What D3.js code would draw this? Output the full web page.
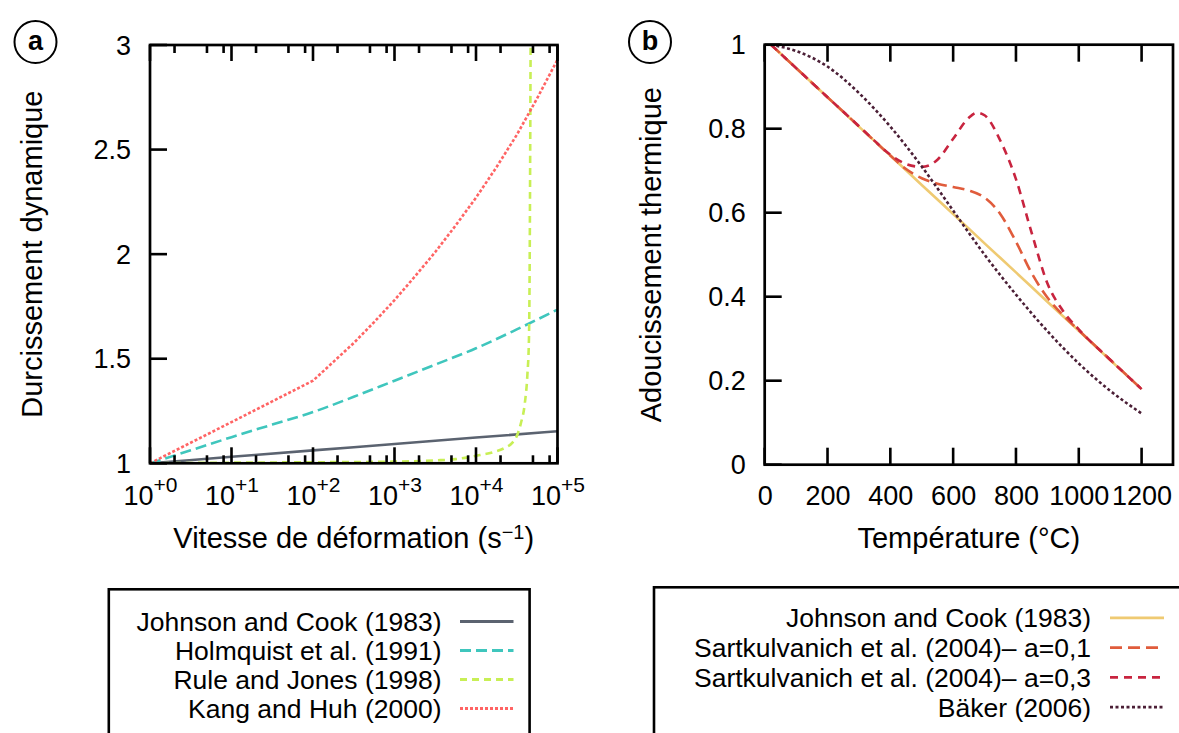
<!DOCTYPE html>
<html>
<head>
<meta charset="utf-8">
<script src="https://cdn.jsdelivr.net/npm/d3@7"></script>
<style>
  html, body { margin: 0; padding: 0; background: #fff; }
  svg { display: block; }
</style>
</head>
<body>
<svg id="chart" width="1179" height="733"></svg>
<script>
// ---- panel a : dynamic hardening vs strain rate (s^-1)
const jcRate = [1, 10, 100, 1e3, 1e4, 1e5];
const jcHardening = [1, 1.031, 1.062, 1.092, 1.123, 1.153];

const holmquistRate = [1, 3.16, 10, 31.6, 100, 316, 1e3, 3162, 1e4, 31623, 1e5];
const holmquistHardening = [1, 1.062, 1.125, 1.185, 1.245, 1.318, 1.395, 1.472, 1.55, 1.64, 1.735];

const ruleJonesRate = [1, 10, 100, 1e3, 3162, 5623, 1e4, 15849, 22387, 28184, 31623, 35481, 39811, 42658, 44668, 45709, 46238, 46774];
const ruleJonesHardening = [1, 1.003, 1.005, 1.008, 1.014, 1.02, 1.036, 1.052, 1.073, 1.1, 1.13, 1.19, 1.29, 1.42, 1.6, 2.05, 2.5, 3.0];

const kangRate = [1, 10, 100, 178, 316, 562, 1e3, 1778, 3162, 5623, 1e4, 17783, 31623, 56234, 1e5];
const kangHardening = [1, 1.197, 1.395, 1.485, 1.575, 1.675, 1.78, 1.893, 2.01, 2.137, 2.27, 2.415, 2.57, 2.745, 2.93];

const rateTicks = [1, 10, 100, 1e3, 1e4, 1e5];
const hardeningTicks = [1, 1.5, 2, 2.5, 3];

// ---- panel b : thermal softening vs temperature (°C)
const jcTemp = [20, 200, 300, 400, 500, 600, 700, 800, 900, 1000, 1100, 1200];
const jcSoftening = [1, 0.875, 0.805, 0.736, 0.666, 0.597, 0.527, 0.458, 0.388, 0.319, 0.249, 0.18];

const sart1Temp = [20, 200, 300, 400, 450, 500, 550, 600, 650, 700, 750, 800, 850, 900, 950, 1000, 1100, 1200];
const sart1Softening = [1, 0.875, 0.806, 0.736, 0.704, 0.682, 0.669, 0.661, 0.653, 0.636, 0.597, 0.531, 0.456, 0.398, 0.356, 0.32, 0.25, 0.18];

const sart3Temp = [20, 200, 300, 350, 400, 450, 500, 525, 550, 600, 650, 675, 700, 750, 800, 850, 900, 950, 1000, 1100, 1200];
const sart3Softening = [1, 0.875, 0.806, 0.771, 0.738, 0.716, 0.709, 0.713, 0.726, 0.776, 0.826, 0.838, 0.832, 0.772, 0.68, 0.552, 0.432, 0.366, 0.322, 0.25, 0.18];

const bakerTemp = [20, 100, 200, 300, 400, 500, 600, 700, 800, 900, 1000, 1100, 1200];
const bakerSoftening = [1, 0.985, 0.948, 0.885, 0.805, 0.71, 0.605, 0.5, 0.405, 0.318, 0.241, 0.176, 0.122];

const tempTicks = [0, 200, 400, 600, 800, 1000, 1200];
const softeningTicks = [0, 0.2, 0.4, 0.6, 0.8, 1];

const seriesA = [
    {name: "Johnson and Cook (1983)", x: jcRate, y: jcHardening},
    {name: "Holmquist et al. (1991)", x: holmquistRate, y: holmquistHardening},
    {name: "Rule and Jones (1998)", x: ruleJonesRate, y: ruleJonesHardening},
    {name: "Kang and Huh (2000)", x: kangRate, y: kangHardening}
];
const seriesB = [
    {name: "Johnson and Cook (1983)", x: jcTemp, y: jcSoftening},
    {name: "Sartkulvanich et al. (2004)– a=0,1", x: sart1Temp, y: sart1Softening},
    {name: "Sartkulvanich et al. (2004)– a=0,3", x: sart3Temp, y: sart3Softening},
    {name: "Bäker (2006)", x: bakerTemp, y: bakerSoftening}
];

const stylesA = {
    "Johnson and Cook (1983)": {stroke: "#5b6370", dash: null, curve: d3.curveMonotoneX},
    "Holmquist et al. (1991)": {stroke: "#3fc6bd", dash: "11,5", curve: d3.curveMonotoneX},
    "Rule and Jones (1998)": {stroke: "#c8ef55", dash: "7,5", curve: d3.curveMonotoneX},
    "Kang and Huh (2000)": {stroke: "#ff6464", dash: "3,2", curve: d3.curveLinear}
};
const stylesB = {
    "Johnson and Cook (1983)": {stroke: "#efca72", dash: null, curve: d3.curveMonotoneX},
    "Sartkulvanich et al. (2004)– a=0,1": {stroke: "#e05c3c", dash: "12,6", curve: d3.curveMonotoneX},
    "Sartkulvanich et al. (2004)– a=0,3": {stroke: "#c8243f", dash: "8,6", curve: d3.curveMonotoneX},
    "Bäker (2006)": {stroke: "#4b1f36", dash: "3,2.5", curve: d3.curveMonotoneX}
};

const FONT = "'Liberation Sans', Arial, Helvetica, sans-serif";
const svg = d3.select("#chart").attr("font-family", FONT);

const xA = d3.scaleLog().domain([1, 1e5]).range([150, 557.5]);
const yA = d3.scaleLinear().domain([1, 3]).range([463.3, 45]);
const xB = d3.scaleLinear().domain([0, 1300]).range([764.7, 1173]);
const yB = d3.scaleLinear().domain([0, 1]).range([464.7, 44.7]);

// axis labels come from d3.axis; the tick marks themselves are drawn separately below
function cleanAxis(g) {
    g.select(".domain").remove();
    g.selectAll(".tick line").remove();
    g.attr("font-family", FONT).attr("font-size", 27);
    g.selectAll(".tick text").attr("fill", "#000");
}

// side: "bottom" marks go up, "top" marks go down, "left" marks go right
function tickMarks(parent, values, scale, side, base, len) {
    const w = 2.6;
    parent.append("g")
        .selectAll("rect")
        .data(values)
        .join("rect")
        .attr("fill", "#000")
        .attr("x", d => side === "left" ? base : scale(d) - w / 2)
        .attr("y", d => side === "left" ? scale(d) - w / 2 : (side === "bottom" ? base - len : base))
        .attr("width", side === "left" ? len : w)
        .attr("height", side === "left" ? w : len);
}

function drawSeries(g, series, styles, xs, ys, clipId) {
    g.append("g")
        .attr("clip-path", `url(#${clipId})`)
        .selectAll("path")
        .data(series)
        .join("path")
        .attr("fill", "none")
        .attr("stroke", d => styles[d.name].stroke)
        .attr("stroke-width", 2.6)
        .attr("stroke-dasharray", d => styles[d.name].dash)
        .attr("d", d => d3.line()
            .x(p => xs(p[0]))
            .y(p => ys(p[1]))
            .curve(styles[d.name].curve)(d.x.map((v, i) => [v, d.y[i]])));
}

function addClip(xs, ys, clipId) {
    const [x0, x1] = xs.range(), [y0, y1] = ys.range();
    svg.append("defs").append("clipPath").attr("id", clipId)
        .append("rect").attr("x", x0).attr("y", y1).attr("width", x1 - x0).attr("height", y0 - y1);
}

function drawFrame(g, xs, ys) {
    const [x0, x1] = xs.range(), [y0, y1] = ys.range();
    g.append("rect")
        .attr("x", x0).attr("y", y1)
        .attr("width", x1 - x0).attr("height", y0 - y1)
        .attr("fill", "none").attr("stroke", "#000").attr("stroke-width", 2.7);
}

function drawYTitle(g, ys, title, titleX) {
    g.append("text")
        .attr("transform", `translate(${titleX},${(ys.range()[0] + ys.range()[1]) / 2}) rotate(-90)`)
        .attr("text-anchor", "middle")
        .attr("font-size", 29)
        .text(title);
}

function drawBadge(cx, cy, letter) {
    const b = svg.append("g");
    b.append("circle").attr("cx", cx).attr("cy", cy).attr("r", 21)
        .attr("fill", "none").attr("stroke", "#000").attr("stroke-width", 2);
    b.append("text").attr("x", cx).attr("y", cy + 8)
        .attr("text-anchor", "middle").attr("font-weight", "bold").attr("font-size", 27)
        .text(letter);
}

function drawLegend(names, styles, box, textRight, sample, rowY0, rowStep) {
    const lg = svg.append("g");
    lg.append("rect")
        .attr("x", box[0]).attr("y", box[1]).attr("width", box[2]).attr("height", box[3])
        .attr("fill", "#fff").attr("stroke", "#000").attr("stroke-width", 2.6);
    const rows = lg.selectAll("g.row").data(names).join("g")
        .attr("class", "row")
        .attr("transform", (d, i) => `translate(0,${rowY0 + i * rowStep})`);
    rows.append("text")
        .attr("x", textRight).attr("y", 9.4)
        .attr("text-anchor", "end").attr("font-size", 26.5)
        .text(d => d);
    rows.append("line")
        .attr("x1", sample[0]).attr("x2", sample[1])
        .attr("stroke", d => styles[d].stroke)
        .attr("stroke-width", 2.8)
        .attr("stroke-dasharray", d => styles[d].dash);
}

// ---------------- curves, titles, frames
addClip(xA, yA, "clipA");
addClip(xB, yB, "clipB");

const gA = svg.append("g");
drawSeries(gA, seriesA, stylesA, xA, yA, "clipA");
drawYTitle(gA, yA, "Durcissement dynamique", 41.5);
const titleA = gA.append("text")
    .attr("x", (xA.range()[0] + xA.range()[1]) / 2).attr("y", 548)
    .attr("text-anchor", "middle").attr("font-size", 29);
titleA.append("tspan").text("Vitesse de déformation (s");
titleA.append("tspan").attr("dy", -9).attr("font-size", 20).text("−1");
titleA.append("tspan").attr("dy", 9).text(")");
drawFrame(gA, xA, yA);
drawBadge(35.5, 42, "a");

const gB = svg.append("g");
drawSeries(gB, seriesB, stylesB, xB, yB, "clipB");
drawYTitle(gB, yB, "Adoucissement thermique", 661);
gB.append("text")
    .attr("x", (xB.range()[0] + xB.range()[1]) / 2).attr("y", 548)
    .attr("text-anchor", "middle").attr("font-size", 29)
    .text("Température (°C)");
drawFrame(gB, xB, yB);
drawBadge(650, 42, "b");

// ---------------- legends
drawLegend(seriesA.map(d => d.name), stylesA, [108.8, 589.3, 420.8, 200], 441.5, [460, 513.5], 621.5, 29);
drawLegend(seriesB.map(d => d.name), stylesB, [654, 587.3, 600, 200], 1091, [1110, 1164], 617.8, 29.8);

// ---------------- axis labels
const axes = svg.append("g").attr("class", "axes");

axes.append("g")
    .attr("transform", `translate(0,${yA.range()[0]})`)
    .call(d3.axisBottom(xA).tickValues(rateTicks).tickSize(0).tickFormat(() => ""))
    .call(cleanAxis)
    .call(a => a.selectAll(".tick text")
        .attr("y", 42).attr("dy", null)
        .each(function (d) {
            const t = d3.select(this);
            t.append("tspan").text("10");
            t.append("tspan").attr("dy", -13).attr("font-size", 21)
                .text("+" + Math.round(Math.log10(d)));
        }));
axes.append("g")
    .attr("transform", `translate(${xA.range()[0]},0)`)
    .call(d3.axisLeft(yA).tickValues(hardeningTicks).tickSize(0).tickPadding(19).tickFormat(d3.format("")))
    .call(cleanAxis)
    .call(a => a.selectAll(".tick text").attr("dy", "0.34em"));

axes.append("g")
    .attr("transform", `translate(0,${yB.range()[0]})`)
    .call(d3.axisBottom(xB).tickValues(tempTicks).tickSize(0).tickFormat(d3.format("")))
    .call(cleanAxis)
    .call(a => a.selectAll(".tick text").attr("y", 40.3).attr("dy", null));
axes.append("g")
    .attr("transform", `translate(${xB.range()[0]},0)`)
    .call(d3.axisLeft(yB).tickValues(softeningTicks).tickSize(0).tickPadding(19).tickFormat(d3.format("")))
    .call(cleanAxis)
    .call(a => a.selectAll(".tick text").attr("dy", "0.34em"));

// ---------------- tick marks (inward), placed with the same scales
const minorRate = rateTicks.slice(0, -1).flatMap(d => [2, 5, 8].map(m => d * m));
const marks = svg.append("g").attr("class", "tick-marks");
tickMarks(marks, rateTicks, xA, "bottom", yA.range()[0], 16);
tickMarks(marks, minorRate, xA, "bottom", yA.range()[0], 8);
tickMarks(marks, rateTicks, xA, "top", yA.range()[1], 16);
tickMarks(marks, minorRate, xA, "top", yA.range()[1], 8);
tickMarks(marks, hardeningTicks, yA, "left", xA.range()[0], 17);

tickMarks(marks, tempTicks, xB, "bottom", yB.range()[0], 17);
tickMarks(marks, tempTicks, xB, "top", yB.range()[1], 17);
tickMarks(marks, softeningTicks, yB, "left", xB.range()[0], 17);
</script>
</body>
</html>
